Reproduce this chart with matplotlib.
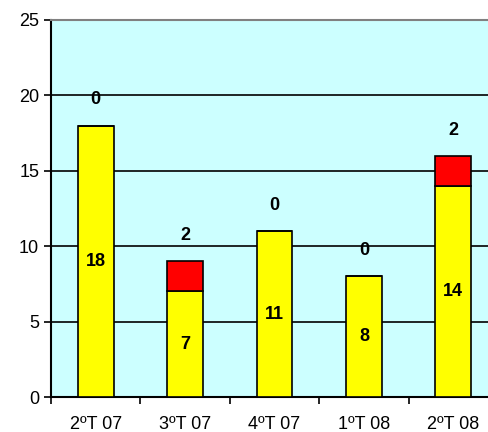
import matplotlib
matplotlib.use("Agg")
import matplotlib.pyplot as plt
import numpy as np

categories = ["2ºT 07", "3ºT 07", "4ºT 07", "1ºT 08", "2ºT 08"]
yellow_vals = [18, 7, 11, 8, 14]
red_vals = [0, 2, 0, 0, 2]

plt.rcParams['font.family'] = ['Liberation Sans', 'DejaVu Sans']

fig = plt.figure(figsize=(4.88, 4.32), dpi=100)
ax = fig.add_axes([51/488, 35/432, 447/488, 377/432])
ax.set_facecolor('#CCFFFF')

x = np.arange(len(categories))
w = 0.4
ax.bar(x, yellow_vals, w, color='#FFFF00', edgecolor='black', linewidth=1.2, zorder=3)
ax.bar(x, red_vals, w, bottom=yellow_vals, color='#FF0000', edgecolor='black', linewidth=1.2, zorder=3)

for i in range(len(categories)):
    ax.text(x[i], yellow_vals[i] / 2, str(yellow_vals[i]), ha='center', va='center',
            fontsize=13, fontweight='bold', zorder=4)
    total = yellow_vals[i] + red_vals[i]
    ax.text(x[i], total + 1.7, str(red_vals[i]), ha='center', va='center',
            fontsize=13, fontweight='bold', zorder=4)

ax.set_xlim(-0.5, len(categories) - 0.5)
ax.set_ylim(0, 25)
ax.set_yticks([0, 5, 10, 15, 20, 25])
ax.yaxis.grid(True, color='black', linewidth=1.2, zorder=1)
ax.set_axisbelow(True)

ax.set_xticks(x)
ax.set_xticklabels(categories, fontsize=13)
ax.set_xticks(np.arange(-0.5, len(categories), 1), minor=True)
ax.tick_params(axis='x', which='major', length=0, pad=14)
ax.tick_params(axis='x', which='minor', length=5, width=1.2, direction='out')
ax.tick_params(axis='y', length=5, width=1.2, direction='out', labelsize=13)

ax.spines['top'].set_color('#808080')
ax.spines['top'].set_linewidth(1.5)
ax.spines['right'].set_visible(False)
ax.spines['left'].set_linewidth(1.5)
ax.spines['bottom'].set_linewidth(1.5)

fig.savefig('out.png', dpi=100)
